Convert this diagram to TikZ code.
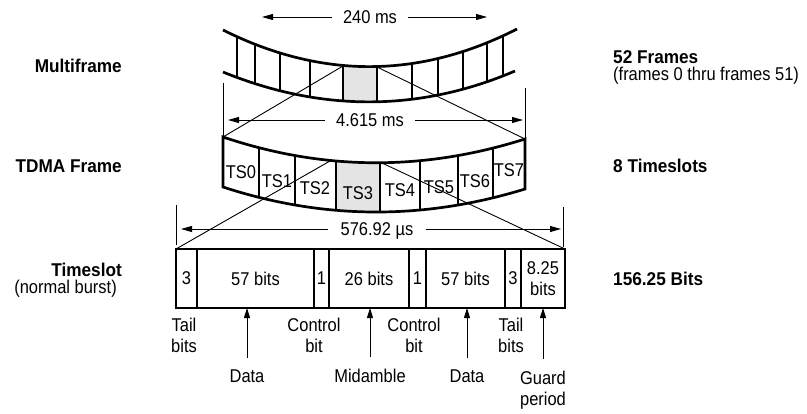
\documentclass[tikz,border=0pt]{standalone}
\usepackage{fontspec}
\setmainfont{Liberation Sans}[FakeStretch=0.89, BoldFeatures={FakeStretch=0.93}]
\usetikzlibrary{arrows.meta, positioning, calc}
\definecolor{cellgray}{RGB}{228,228,228}
\tikzset{
  txt/.style={font=\fontsize{18.5}{21}\selectfont, inner sep=0pt},
  hdr/.style={font=\fontsize{18.5}{21}\selectfont\bfseries, inner sep=0pt},
  heavy/.style={line width=2.7pt},
  thin/.style={line width=0.9pt},
  dimarrow/.style={thin, -{Triangle[length=11pt,width=6pt]}},
  uparrow/.style={line width=1pt, -{Triangle[length=10pt,width=6pt]}},
  field/.style={draw, line width=2.6pt, minimum height=59pt, inner sep=0pt, outer sep=0pt,
    font=\fontsize{18.5}{21}\selectfont, align=center},
}
\begin{document}
\begin{tikzpicture}[x=1pt, y=-1pt]
  \useasboundingbox (0,0) rectangle (807,413);
  % multiframe band
  \begin{scope}
    \clip (223,30) .. controls (321,79) and (419,79) .. (517,29) -- (515,71)
      .. controls (419,112) and (321,112) .. (223,72) -- cycle;
    \fill[cellgray] (343,0) rectangle (377,120);
    \foreach \x in {237,255,280,310,343,377,412,438,463,487,503} {
      \draw[heavy] (\x,0) -- (\x,120);
    }
  \end{scope}
  \draw[heavy] (223,30) .. controls (321,79) and (419,79) .. (517,29);
  \draw[heavy] (223,72) .. controls (321,112) and (419,112) .. (515,71);
  % TDMA frame
  \begin{scope}
    \clip (223,137) .. controls (324,171) and (424,171) .. (525,139) -- (525,189)
      .. controls (424,220) and (324,220) .. (223,187) -- cycle;
    \fill[cellgray] (336,130) rectangle (380,230);
    \foreach \x in {259,295,336,380,420,458,493} {
      \draw[heavy] (\x,130) -- (\x,230);
    }
  \end{scope}
  \draw[heavy] (223,137) .. controls (324,171) and (424,171) .. (525,139) -- (525,189)
    .. controls (424,220) and (324,220) .. (223,187) -- cycle;
  \foreach \i/\xc/\yc in {0/241/172, 1/277/181, 2/315/188, 3/358/193, 4/400/190, 5/439/187, 6/475/181, 7/509/170} {
    \node[txt] (ts\i) at (\xc,\yc) {TS\i};
  }
  % timeslot fields
  \node[field, minimum width=21pt, anchor=north west] (tail1) at (176,249) {3};
  \node[field, minimum width=117pt, right=0pt of tail1] (data1) {57 bits};
  \node[field, minimum width=15pt, right=0pt of data1] (ctrl1) {1};
  \node[field, minimum width=80pt, right=0pt of ctrl1] (mid) {26 bits};
  \node[field, minimum width=17pt, right=0pt of mid] (ctrl2) {1};
  \node[field, minimum width=79pt, right=0pt of ctrl2] (data2) {57 bits};
  \node[field, minimum width=16pt, right=0pt of data2] (tail2) {3};
  \node[field, minimum width=44pt, right=0pt of tail2] (guard) {8.25\\bits};
  % labels under the fields
  \node[txt, align=center, anchor=north] (tailtxt1) at (184,318) {Tail\\bits};
  \node[txt, align=center, anchor=north] (ctrltxt1) at (314,318) {Control\\bit};
  \node[txt, align=center, anchor=north] (ctrltxt2) at (414,318) {Control\\bit};
  \node[txt, align=center, anchor=north] (tailtxt2) at (511,318) {Tail\\bits};
  \node[txt, anchor=north] (datatxt1) at (247,370) {Data};
  \node[txt, anchor=north] (midtxt) at (370,369) {Midamble};
  \node[txt, anchor=north] (datatxt2) at (467,370) {Data};
  \node[txt, align=center, anchor=north] (guardtxt) at (543,371) {Guard\\period};
  \foreach \t/\f in {datatxt1/data1, midtxt/mid, datatxt2/data2, guardtxt/guard} {
    \draw[uparrow, shorten <=12pt] (\t.north) -- (\t.north |- \f.south);
  }
  % side labels
  \node[hdr, anchor=base east] (mflbl) at (122,72) {Multiframe};
  \node[hdr, anchor=base east] (frlbl) at (122,172) {TDMA Frame};
  \node[hdr, anchor=base east] (tslbl) at (122,276) {Timeslot};
  \node[txt, anchor=base east] (tssub) at (117,293) {(normal burst)};
  \node[hdr, anchor=base west] (mfinfo) at (613,63) {52 Frames};
  \node[txt, anchor=base west] (mfsub) at (613,80) {(frames 0 thru frames 51)};
  \node[hdr, anchor=base west] (frinfo) at (613,172) {8 Timeslots};
  \node[hdr, anchor=base west] (tsinfo) at (613,285) {156.25 Bits};
  % dimensions
  \coordinate (mfdim-l) at (262,17);
  \coordinate (mfdim-r) at (487,17);
  \node[txt, inner xsep=11pt] (mfdim) at (370,17) {240 ms};
  \draw[dimarrow] (mfdim.west) -- (mfdim-l);
  \draw[dimarrow] (mfdim.east) -- (mfdim-r);
  \coordinate (fr-nw) at (223,137);
  \coordinate (fr-ne) at (525,139);
  \coordinate (frtick-l) at (223,83);
  \coordinate (frtick-r) at (525,88);
  \draw[thin] (frtick-l) -- (fr-nw);
  \draw[thin] (frtick-r) -- (fr-ne);
  \node[txt, inner xsep=11pt] (frdim) at (370,120) {4.615 ms};
  \draw[dimarrow, shorten >=5pt] (frdim.west) -- (frdim.west -| frtick-l);
  \draw[dimarrow, shorten >=2pt] (frdim.east) -- (frdim.east -| frtick-r);
  \coordinate (tstick-l) at (176,205);
  \coordinate (tstick-r) at (563,207);
  \draw[thin] (tstick-l) -- ++(0,40);
  \draw[thin] (tstick-r) -- ++(0,40);
  \node[txt, inner xsep=12pt, text depth=0pt] (tsdim) at (377,229) {576.92 µs};
  \draw[dimarrow, shorten >=5pt] (tsdim.west) -- (tsdim.west -| tstick-l);
  \draw[dimarrow, shorten >=2pt] (tsdim.east) -- (tsdim.east -| tstick-r);
  % zoom lines
  \coordinate (mf-a) at (343,66);
  \coordinate (mf-b) at (377,67);
  \coordinate (ts3-a) at (330,161);
  \coordinate (ts3-b) at (382,163);
  \draw[thin] (mf-a) -- (fr-nw);
  \draw[thin] (mf-b) -- (fr-ne);
  \draw[thin] (ts3-a) -- (tail1.north west);
  \draw[thin] (ts3-b) -- (guard.north east);
\end{tikzpicture}
\end{document}
